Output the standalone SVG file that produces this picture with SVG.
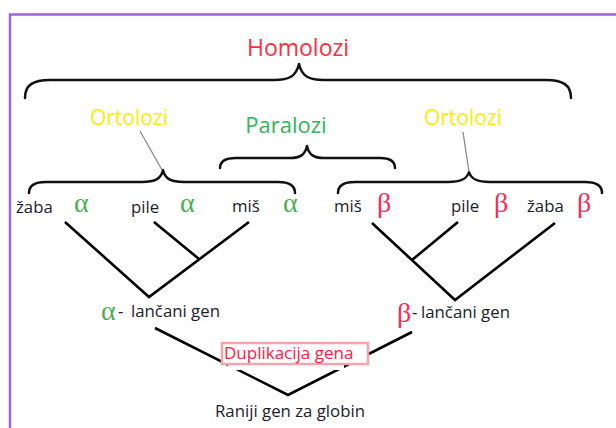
<svg xmlns="http://www.w3.org/2000/svg" width="616" height="428" viewBox="0 0 616 428">
<style>
.lbl{font-family:"Open Sans","Noto Sans",sans-serif;font-size:16.8px;fill:#1b1b2b}
.greek{font-family:"Liberation Serif","DejaVu Serif",serif;font-size:28px}
.al{fill:#4cb050}
.be{fill:#ff2a55}
.title{font-family:"Open Sans","Noto Sans",sans-serif}
.brace{fill:none;stroke:#111;stroke-width:2.5;stroke-linecap:round;stroke-linejoin:round}
.tree{fill:none;stroke:#000;stroke-width:2.6;stroke-linecap:butt}
.ptr{fill:none;stroke:#8a8a8a;stroke-width:1.3}
</style>
<rect width="616" height="428" fill="#fff"/>
<g id="frame" fill="none" stroke="#a064d4" stroke-width="2.5">
<path d="M10,428 L10,14.5 L616,14.5"/>
</g>
<g id="homolozi">
<text class="title" x="298" y="56" font-size="23" fill="#ff2d3d" text-anchor="middle">Homolozi</text>
</g>
<g id="ortolozi-left">
<text class="title" x="129" y="125" font-size="21" fill="#f7f000" text-anchor="middle">Ortolozi</text>
</g>
<g id="paralozi">
<text class="title" x="286" y="133" font-size="22" fill="#35b35a" text-anchor="middle">Paralozi</text>
</g>
<g id="ortolozi-right">
<text class="title" x="463" y="125" font-size="21" fill="#f7f000" text-anchor="middle">Ortolozi</text>
</g>
<g id="alpha-species">
<text class="lbl" x="16" y="213">žaba</text>
<text class="greek al" x="74" y="212">α</text>
<text class="lbl" x="131" y="213">pile</text>
<text class="greek al" x="180" y="212">α</text>
<text class="lbl" x="232" y="212">miš</text>
<text class="greek al" x="283" y="212">α</text>
</g>
<g id="beta-species">
<text class="lbl" x="334" y="212">miš</text>
<text class="greek be" x="377" y="212">β</text>
<text class="lbl" x="451" y="212">pile</text>
<text class="greek be" x="494" y="212">β</text>
<text class="lbl" x="527" y="212">žaba</text>
<text class="greek be" x="577" y="212">β</text>
</g>
<g id="alpha-gene">
<text class="greek al" x="101" y="320">α</text>
<text class="lbl" x="118" y="317">-</text>
<text class="lbl" x="131" y="317">lančani gen</text>
</g>
<g id="beta-gene">
<text class="greek be" x="397" y="322">β</text>
<text class="lbl" x="412" y="318">-</text>
<text class="lbl" x="421" y="318">lančani gen</text>
</g>
<g id="connectors">
<path class="brace" d="M25,98 C25,85 33,80 50,80 L274,80 C290,80 296,76 299,64 C302,76 308,80 324,80 L546,80 C563,80 571,85 571,98"/>
<path class="brace" d="M220,168 C220,161 225,158 236,158 L290,158 C300,158 305,155 307,146 C309,155 314,158 324,158 L380,158 C390,158 395,161 395,168"/>
<path class="brace" d="M29,193 C29,186 34,182 46,182 L142,182 C155,182 161,179 163,170 C165,179 171,182 184,182 L278,182 C290,182 295,186 295,193"/>
<path class="brace" d="M338,193 C338,186 343,182 355,182 L448,182 C461,182 467,179 469,172 C471,179 477,182 490,182 L585,182 C597,182 602,186 602,193"/>
<line class="ptr" x1="140" y1="131" x2="162" y2="170"/>
<line class="ptr" x1="463" y1="132" x2="469" y2="172"/>
<path class="tree" d="M65,222 L149,297 L249,222 M154,222 L199,259"/>
<path class="tree" d="M372,223 L455,300 L555,223 M458,222 L412,260"/>
<path class="tree" d="M155,328 L288,395 L412,332"/>
</g>
<g id="duplikacija">
<rect x="228" y="343" width="116" height="27" fill="#fff"/>
<rect x="222" y="343" width="146" height="21" fill="#fff" stroke="#f6a3ab" stroke-width="2.5"/>
<text class="title" x="224" y="359" font-size="17" fill="#ff2040">Duplikacija gena</text>
</g>
<g id="raniji">
<text class="lbl" x="290" y="417" text-anchor="middle">Raniji gen za globin</text>
</g>
</svg>
